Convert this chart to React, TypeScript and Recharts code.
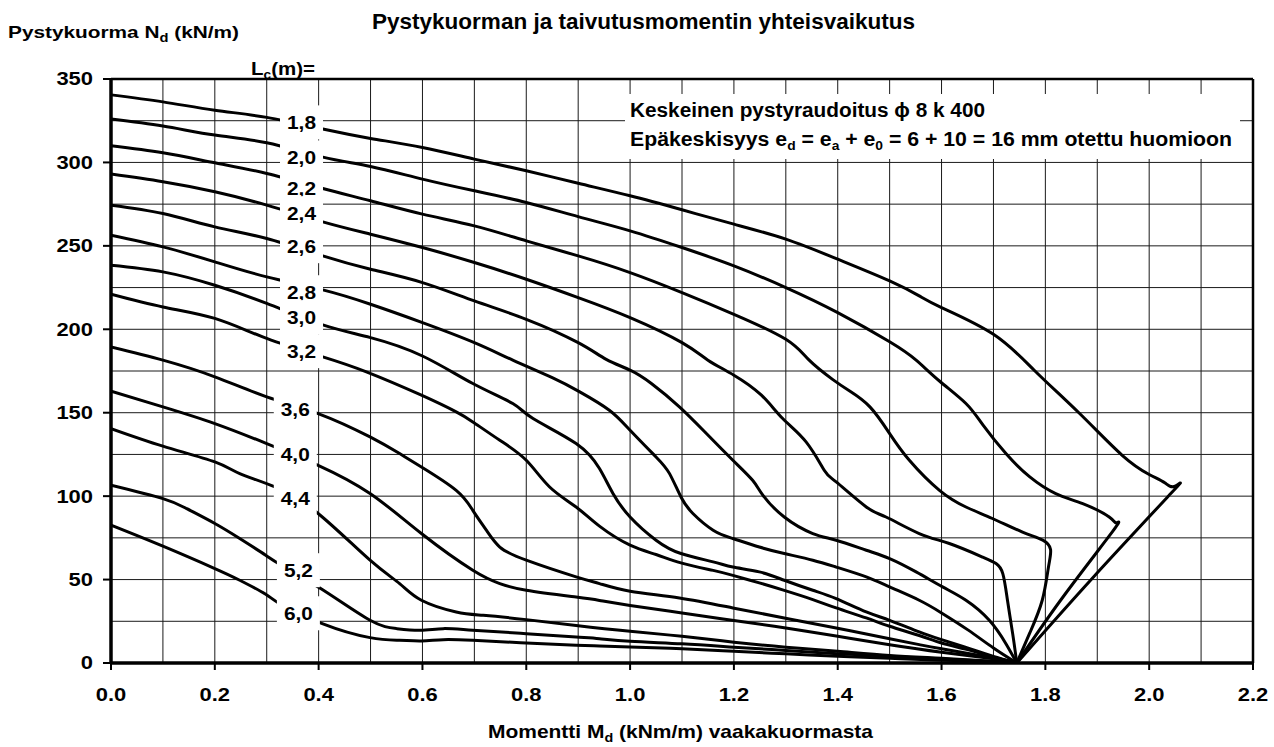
import React from 'react'
import { CartesianGrid, Line, LineChart, ReferenceDot, ReferenceLine, XAxis, YAxis } from 'recharts'

type Pt = [number, number]

// Lc = 1.8 ... 6.0 m, [moment M_d, load N_d]
const C18: Pt[] = [[0, 340.5], [0.1, 336.3], [0.2, 331.3], [0.3, 327], [0.408, 320], [0.5, 314.4], [0.6, 309], [0.7, 302], [0.8, 295], [0.9, 287.5], [1.0, 280], [1.1, 271.6], [1.2, 263], [1.3, 254], [1.4, 242], [1.5, 229], [1.557, 220], [1.6, 213], [1.7, 197], [1.78, 175], [1.866, 149.5], [1.948, 124.5], [2.0, 113], [2.03, 108], [2.05, 106], [2.043, 102], [1.891, 51], [1.745, 0]]
const C20: Pt[] = [[0, 326], [0.1, 321.8], [0.2, 316.4], [0.3, 311.8], [0.408, 303.2], [0.5, 297.6], [0.6, 290], [0.7, 283], [0.8, 276], [0.9, 267.5], [1.0, 259], [1.1, 249], [1.2, 238], [1.3, 225], [1.4, 210], [1.5, 192.5], [1.551, 181.5], [1.596, 169], [1.647, 155.5], [1.68, 142.5], [1.724, 125.5], [1.77, 111.5], [1.82, 101.5], [1.872, 95.5], [1.923, 87.5], [1.937, 84], [1.93, 79], [1.835, 40], [1.745, 0]]
const C22: Pt[] = [[0, 310], [0.1, 305.8], [0.2, 299.8], [0.3, 293.4], [0.408, 284.4], [0.5, 277], [0.6, 269], [0.7, 262], [0.8, 253], [0.9, 244], [1.0, 234], [1.1, 222], [1.2, 209], [1.3, 194], [1.345, 181.5], [1.39, 170], [1.423, 163], [1.462, 153.5], [1.5, 137.5], [1.538, 121.5], [1.596, 103.5], [1.647, 93.5], [1.698, 86.6], [1.756, 78.5], [1.795, 73.6], [1.81, 68], [1.806, 57.5], [1.794, 37.6], [1.77, 18], [1.745, 0]]
const C24: Pt[] = [[0, 293], [0.1, 288.4], [0.2, 282.4], [0.3, 274.4], [0.408, 264.4], [0.5, 257], [0.6, 249], [0.7, 240], [0.8, 230], [0.9, 219], [1.0, 207], [1.1, 192], [1.15, 181.5], [1.2, 172.5], [1.253, 160.5], [1.294, 146.5], [1.339, 132.5], [1.374, 115.5], [1.397, 108.5], [1.455, 93.5], [1.493, 87.5], [1.557, 77.6], [1.615, 71.6], [1.679, 63.5], [1.705, 59.6], [1.718, 53.6], [1.727, 37.6], [1.737, 17.6], [1.745, 0]]
const C26: Pt[] = [[0, 274.4], [0.1, 269.4], [0.2, 261.4], [0.3, 254.4], [0.408, 244], [0.5, 236], [0.6, 228], [0.7, 217], [0.8, 206], [0.9, 192], [0.954, 182], [1.0, 175.5], [1.041, 167.5], [1.095, 153.5], [1.147, 137.5], [1.198, 121.5], [1.236, 109.5], [1.256, 100.5], [1.297, 87.5], [1.352, 77.6], [1.397, 73.6], [1.455, 67.6], [1.5, 62.6], [1.551, 54.6], [1.602, 45.6], [1.647, 37.6], [1.692, 25.6], [1.724, 11.6], [1.745, 0]]
const C28: Pt[] = [[0, 256.4], [0.1, 249.4], [0.2, 240.4], [0.3, 231.4], [0.408, 223.6], [0.5, 215], [0.6, 204], [0.7, 192], [0.774, 181.5], [0.85, 171], [0.903, 162.5], [0.96, 151.5], [1.0, 139.5], [1.05, 123.5], [1.076, 113.5], [1.098, 99.5], [1.121, 89.6], [1.16, 79.6], [1.198, 74.6], [1.249, 69.5], [1.297, 65.6], [1.352, 61.6], [1.397, 57.5], [1.455, 51.6], [1.5, 45.6], [1.557, 37.6], [1.6, 30], [1.65, 20], [1.7, 9], [1.745, 0]]
const C30: Pt[] = [[0, 238.4], [0.1, 234.4], [0.2, 226.4], [0.3, 215.5], [0.408, 202.6], [0.5, 195], [0.6, 184], [0.697, 167.5], [0.774, 155.5], [0.813, 146.5], [0.896, 131.5], [0.941, 116.5], [0.967, 101.6], [1.0, 87.5], [1.05, 73.6], [1.098, 65.6], [1.16, 60.6], [1.198, 57.5], [1.249, 54.6], [1.297, 49.6], [1.352, 43.6], [1.397, 38.6], [1.455, 30.6], [1.5, 25.6], [1.557, 18.6], [1.6, 14], [1.65, 9], [1.7, 4], [1.745, 0]]
const C32: Pt[] = [[0, 221], [0.1, 213.4], [0.2, 206.5], [0.3, 194.5], [0.408, 183.5], [0.492, 174.5], [0.598, 160.5], [0.665, 150.5], [0.697, 144.5], [0.749, 133.5], [0.8, 121.5], [0.845, 105.5], [0.896, 93.5], [0.941, 82], [1.0, 70.6], [1.05, 65], [1.098, 60], [1.16, 55.5], [1.198, 52.5], [1.249, 48], [1.297, 43.5], [1.352, 38], [1.397, 33], [1.455, 27], [1.5, 22], [1.557, 16.5], [1.6, 12], [1.65, 8], [1.7, 3.5], [1.745, 0]]
const C36: Pt[] = [[0, 189.4], [0.1, 181.5], [0.2, 171.5], [0.3, 159.5], [0.399, 149.5], [0.499, 135.5], [0.556, 125.5], [0.598, 117.5], [0.665, 103.5], [0.697, 91.5], [0.723, 79.6], [0.749, 69.5], [0.8, 61.6], [0.896, 51.6], [0.941, 47.6], [1.0, 43], [1.095, 39], [1.198, 33], [1.297, 27], [1.397, 21], [1.5, 14.5], [1.557, 11], [1.6, 8.5], [1.7, 3], [1.745, 0]]
const C40: Pt[] = [[0, 162.9], [0.1, 153.5], [0.2, 143.5], [0.3, 131.5], [0.399, 118.5], [0.499, 101.6], [0.598, 77.6], [0.697, 55.6], [0.749, 47.6], [0.8, 43.6], [0.896, 39.5], [0.941, 37.5], [1.0, 34.5], [1.1, 30], [1.2, 25.5], [1.3, 21], [1.4, 16], [1.5, 11], [1.6, 6.5], [1.7, 2.5], [1.745, 0]]
const C44: Pt[] = [[0, 140.5], [0.1, 130], [0.2, 120.5], [0.248, 113.5], [0.316, 105.5], [0.399, 89.6], [0.499, 61.6], [0.556, 47.6], [0.598, 37.6], [0.665, 30.6], [0.717, 28.6], [0.8, 26], [0.896, 22.5], [1.0, 19], [1.1, 16], [1.2, 12.5], [1.3, 9.5], [1.4, 7], [1.5, 4.5], [1.6, 2.8], [1.7, 1], [1.745, 0]]
const C52: Pt[] = [[0, 106.5], [0.1, 98.5], [0.146, 92.5], [0.2, 83.6], [0.248, 74.6], [0.298, 64.6], [0.325, 59.2], [0.407, 44], [0.499, 25.6], [0.55, 20.6], [0.596, 19.6], [0.64, 20.6], [0.697, 19.6], [0.8, 17.6], [0.896, 15.6], [0.941, 14.6], [1.0, 13], [1.1, 11.5], [1.2, 9.5], [1.3, 7.5], [1.4, 5.6], [1.5, 4], [1.6, 2.4], [1.7, 0.9], [1.745, 0]]
const C60: Pt[] = [[0, 82.6], [0.1, 70], [0.2, 56.6], [0.248, 49.6], [0.298, 41.2], [0.325, 35.6], [0.407, 23.6], [0.499, 15.2], [0.556, 13.6], [0.598, 13.2], [0.64, 14], [0.697, 13.6], [0.8, 12], [0.896, 10.6], [0.941, 10.2], [1.0, 9.6], [1.1, 8.5], [1.2, 7], [1.3, 5.5], [1.4, 4], [1.5, 2.8], [1.6, 1.7], [1.7, 0.6], [1.745, 0]]

const CURVES: Pt[][] = [C18, C20, C22, C24, C26, C28, C30, C32, C36, C40, C44, C52, C60]
const LABELS = ['1,8', '2,0', '2,2', '2,4', '2,6', '2,8', '3,0', '3,2', '3,6', '4,0', '4,4', '5,2', '6,0']
const LABEL_X = [0.367, 0.367, 0.367, 0.367, 0.367, 0.367, 0.367, 0.367, 0.355, 0.355, 0.355, 0.361, 0.361]
const LABEL_Y = [324, 303, 284.6, 269.6, 249.8, 222.2, 207.3, 186.9, 152.1, 125.2, 98.8, 55.6, 29.8]

const X_TICKS = [0, 0.2, 0.4, 0.6, 0.8, 1.0, 1.2, 1.4, 1.6, 1.8, 2.0, 2.2]
const Y_TICKS = [0, 50, 100, 150, 200, 250, 300, 350]
const X_GRID = [0.1, 0.2, 0.3, 0.4, 0.5, 0.6, 0.7, 0.8, 0.9, 1.0, 1.1, 1.2, 1.3, 1.4, 1.5, 1.6, 1.7, 1.8, 1.9, 2.0, 2.1]
const Y_GRID = [25, 50, 75, 100, 125, 150, 175, 200, 225, 250, 275, 300, 325]

const FONT = '"Liberation Sans", Arial, sans-serif'
const W = 1274
const H = 747

function YTick({ x, y, payload }: any) {
  return (
    <text transform={`translate(${x},${y}) scale(1.22,1)`} textAnchor="end" dy="0.36em"
      fontFamily={FONT} fontWeight="bold" fontSize={18} fill="#000">
      {payload.value}
    </text>
  )
}

function XTick({ x, y, payload }: any) {
  return (
    <text transform={`translate(${x},${y}) scale(1.22,1)`} textAnchor="middle" dy="0.71em"
      fontFamily={FONT} fontWeight="bold" fontSize={18} fill="#000">
      {Number(payload.value).toFixed(1)}
    </text>
  )
}

function labelBox(text: string) {
  return (props: any) => {
    const { cx, cy } = props
    return (
      <g>
        <rect x={cx - 21.5} y={cy - 17} width={43} height={34} fill="#fff" />
        <text x={cx} y={cy} dy="0.36em" textAnchor="middle" fontFamily={FONT} fontWeight="bold"
          fontSize={19} textLength={29} lengthAdjust="spacingAndGlyphs" fill="#000">
          {text}
        </text>
      </g>
    )
  }
}

export default function App() {
  const series = CURVES.map(c => c.map(([x, y]) => ({ x, y })))
  return (
    <div style={{ position: 'absolute', left: 0, top: 0, width: W, height: H, background: '#fff' }}>
      <LineChart width={W} height={H} margin={{ top: 79, right: 21, bottom: 24, left: 11 }}>
        <CartesianGrid stroke="#1a1a1a" strokeWidth={1} horizontalValues={Y_GRID} verticalValues={X_GRID} />
        <XAxis type="number" dataKey="x" domain={[0, 2.2]} ticks={X_TICKS} height={60}
          axisLine={false} tickLine={{ stroke: '#000', strokeWidth: 2 }}
          tickSize={7} tickMargin={18} tick={<XTick />} interval={0} allowDataOverflow />
        <YAxis type="number" domain={[0, 350]} ticks={Y_TICKS} width={100}
          axisLine={false} tickLine={{ stroke: '#000', strokeWidth: 2 }}
          tickSize={8} tickMargin={10} tick={<YTick />} interval={0} allowDataOverflow />
        <ReferenceLine y={350} stroke="#000" strokeWidth={2.5} />
        <ReferenceLine x={2.2} stroke="#000" strokeWidth={2.5} />
        {series.map((d, i) => (
          <Line key={LABELS[i]} data={d} dataKey="y" type="natural" stroke="#000" strokeWidth={3}
            strokeLinejoin="round" dot={false} activeDot={false} isAnimationActive={false} />
        ))}
        <ReferenceLine y={0} stroke="#000" strokeWidth={3.5} />
        <ReferenceLine x={0} stroke="#000" strokeWidth={3.5} />
        {LABELS.map((t, i) => (
          <ReferenceDot key={'l' + t} x={LABEL_X[i]} y={LABEL_Y[i]} r={0} shape={labelBox(t)} />
        ))}
      </LineChart>
      <svg width={W} height={H} style={{ position: 'absolute', left: 0, top: 0, pointerEvents: 'none', whiteSpace: 'pre' }}
        fontFamily={FONT} fontWeight="bold" fill="#000">
        <text x={372} y={29} fontSize={22} textLength={543} lengthAdjust="spacingAndGlyphs">
          Pystykuorman ja taivutusmomentin yhteisvaikutus
        </text>
        <text x={8} y={38} fontSize={17} textLength={231} lengthAdjust="spacingAndGlyphs">
          Pystykuorma N<tspan fontSize={12} dy={4}>d</tspan><tspan dy={-4}> (kN/m)</tspan>
        </text>
        <text x={251} y={75} fontSize={18} textLength={64} lengthAdjust="spacingAndGlyphs">
          L<tspan fontSize={12} dy={4}>c</tspan><tspan dy={-4}>(m)=</tspan>
        </text>
        <text x={488} y={738} fontSize={19} textLength={385} lengthAdjust="spacingAndGlyphs">
          Momentti M<tspan fontSize={13} dy={4}>d</tspan><tspan dy={-4}> (kNm/m) vaakakuormasta</tspan>
        </text>
        <rect x={625} y={94} width={615} height={65} fill="#fff" />
        <text x={630} y={117} fontSize={20} textLength={355} lengthAdjust="spacingAndGlyphs">
          Keskeinen pystyraudoitus ϕ 8 k 400
        </text>
        <text x={630} y={146} fontSize={20} textLength={602} lengthAdjust="spacingAndGlyphs">
          Epäkeskisyys e<tspan fontSize={13} dy={4}>d</tspan><tspan dy={-4}> = e</tspan><tspan fontSize={13} dy={4}>a</tspan><tspan dy={-4}> + e</tspan><tspan fontSize={13} dy={4}>0</tspan><tspan dy={-4}>{' = 6 + 10 = 16  mm otettu huomioon'}</tspan>
        </text>
      </svg>
    </div>
  )
}
